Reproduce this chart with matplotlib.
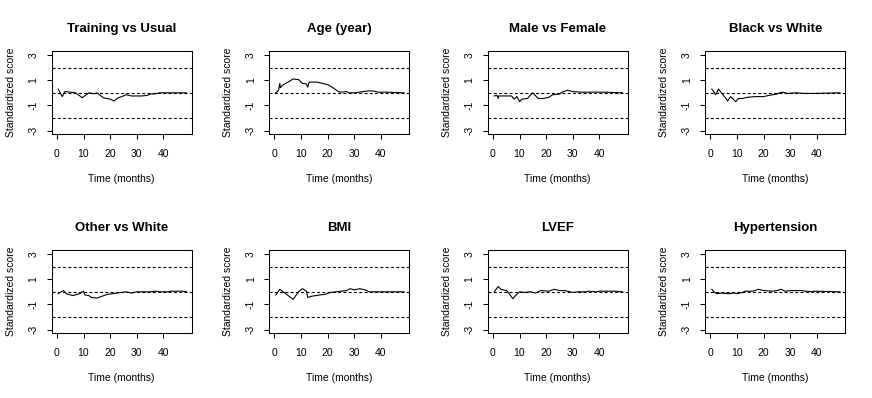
import numpy as np
import matplotlib
matplotlib.use("Agg")
import matplotlib.pyplot as plt

plt.rcParams['font.family'] = ['Liberation Sans', 'DejaVu Sans']
plt.rcParams['lines.scale_dashes'] = False

titles = ["Training vs Usual", "Age (year)", "Male vs Female", "Black vs White",
          "Other vs White", "BMI", "LVEF", "Hypertension"]
t_end = 48.7

# standardized score process (time, score)
x_train = [0.5, 2, 3, 5, 7, 9, 9.5, 11, 12, 14, 15, 16, 17.5, 20, 21.5, 23, 25, 26, 28, 32, 34, 35, 37, 38.5, t_end]
y_train = [0.3, -0.3, 0.1, 0.05, 0, -0.3, -0.4, -0.15, 0, -0.08, 0, -0.15, -0.4, -0.5, -0.65, -0.4, -0.25, -0.15, -0.25, -0.25, -0.2, -0.1, -0.08, 0, 0]

x_age = [0.5, 1.5, 2, 2.2, 3, 5.5, 7, 9, 10.5, 12, 12.5, 13, 16, 18, 20, 22, 24, 25, 27, 28, 30, 32, 35, 37, 39, 42, t_end]
y_age = [0, 0.2, 0.75, 0.4, 0.6, 0.9, 1.1, 1.05, 0.75, 0.7, 0.45, 0.85, 0.85, 0.75, 0.65, 0.4, 0.1, 0.05, 0.1, 0, 0, 0.05, 0.15, 0.15, 0.05, 0.05, 0]

x_male = [0.5, 1.5, 2, 2.1, 7, 8, 9, 10, 11, 13, 14, 15, 17, 19, 21, 22.5, 25, 26, 28, 30, 33, 42, t_end]
y_male = [-0.25, -0.2, -0.45, -0.25, -0.25, -0.5, -0.3, -0.7, -0.5, -0.45, -0.2, 0, -0.45, -0.45, -0.35, -0.15, -0.1, 0.05, 0.2, 0.1, 0.05, 0.05, 0]

x_black = [0.5, 2, 3, 4.5, 6.5, 7.5, 9.5, 10.5, 12, 14, 17, 20, 22, 25, 26, 27, 29, 32, 35, 38, t_end]
y_black = [0.3, -0.15, 0.3, -0.1, -0.65, -0.3, -0.7, -0.45, -0.45, -0.35, -0.3, -0.3, -0.2, -0.1, 0, 0.05, -0.05, 0, -0.05, -0.05, 0]

x_other = [0.5, 2, 2.5, 3.5, 6, 8.5, 10, 10.5, 12, 13, 15, 17, 19, 21, 24, 26, 28, 30, 35, 37, 39, 42, 43, 47, t_end]
y_other = [-0.15, 0.05, 0.1, -0.15, -0.3, -0.15, 0.05, -0.25, -0.3, -0.45, -0.5, -0.35, -0.2, -0.15, -0.05, 0, -0.1, 0, 0, 0.05, 0, 0, 0.05, 0.05, 0]

x_bmi = [0.5, 2, 3, 7, 8.5, 9, 10.5, 12, 12.5, 14, 17, 19, 21, 23, 25, 27, 28.5, 30, 32, 34, 35.5, t_end]
y_bmi = [-0.25, 0.2, 0.05, -0.6, -0.15, 0, 0.25, 0.05, -0.45, -0.35, -0.25, -0.2, -0.05, 0, 0.05, 0.1, 0.25, 0.15, 0.25, 0.15, 0, 0]

x_lvef = [0.5, 2, 3, 5, 6, 7.5, 8.5, 10, 12, 14, 16, 18, 21, 23, 25, 27, 29, 30, 32, 35, 36, 39, 40, 46, t_end]
y_lvef = [0, 0.42, 0.2, 0.1, -0.1, -0.55, -0.3, 0, -0.05, 0, -0.1, 0.1, 0.05, 0.2, 0.1, 0.1, 0, -0.05, 0, 0, 0.05, 0, 0.05, 0.05, 0]

x_hyp = [0.5, 1.5, 2.5, 4, 7, 9, 10, 12, 13, 16, 18, 20, 23, 25, 26.5, 28, 30, 34, 36, 38, 39, t_end]
y_hyp = [0.2, -0.05, -0.15, -0.1, -0.15, -0.1, -0.15, -0.05, 0.05, 0.05, 0.2, 0.1, 0.05, 0.1, 0.2, 0.05, 0.1, 0.1, 0.05, 0, 0.05, 0]

series = [(x_train, y_train), (x_age, y_age), (x_male, y_male), (x_black, y_black),
          (x_other, y_other), (x_bmi, y_bmi), (x_lvef, y_lvef), (x_hyp, y_hyp)]

W, H = 872, 398
fig = plt.figure(figsize=(W / 100, H / 100), dpi=100)

col_left = [51.7, 269.3, 487.7, 705.3]
row_top = [51, 250]
bw, bh = 140, 83

for i, (title, (xs, ys)) in enumerate(zip(titles, series)):
    r, c = divmod(i, 4)
    ax = fig.add_axes([col_left[c] / W, (H - row_top[r] - bh) / H, bw / W, bh / H])
    for h in (-2, 0, 2):
        ax.axhline(h, color='black', lw=0.8, linestyle=(0, (2.2, 1.6)))
    ax.plot(xs, ys, color='black', lw=0.8)
    ax.set_xlim(-1.95, 50.65)
    ax.set_ylim(-3.27, 3.32)
    ax.set_xticks([0, 10, 20, 30, 40])
    ax.set_yticks([-3, -1, 1, 3])
    ax.set_yticklabels(['-3', '-1', '1', '3'], rotation=90, va='center')
    ax.tick_params(labelsize=7.5, length=3.6, width=0.75, pad=7)
    ax.tick_params(axis='y', pad=6)
    for s in ax.spines.values():
        s.set_linewidth(0.75)
    ax.set_title(title, fontsize=9.5, fontweight='bold', pad=14)
    ax.set_xlabel('Time (months)', fontsize=7.5, labelpad=11)
    ax.set_ylabel('Standardized score', fontsize=7.5, labelpad=9)

fig.savefig('out.png', dpi=100)
